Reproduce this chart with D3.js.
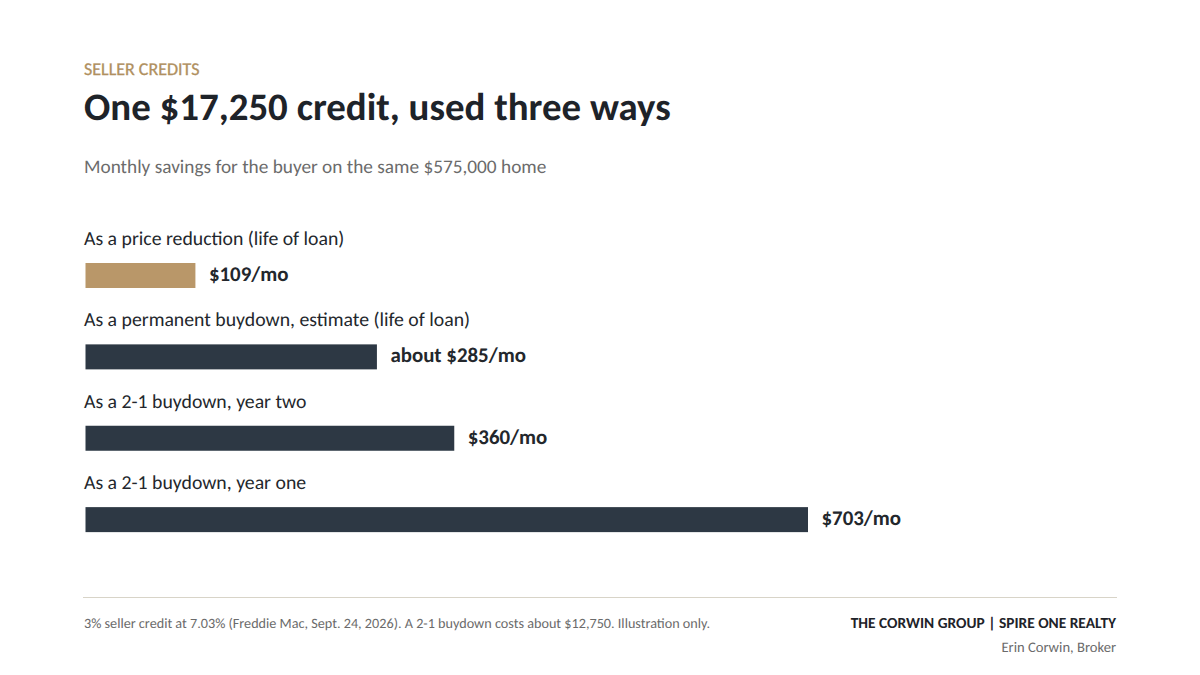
<!DOCTYPE html>
<html><head><meta charset="utf-8">
<script src="https://cdn.jsdelivr.net/npm/d3@7"></script>
<style>html,body{margin:0;padding:0;background:#fff}svg{display:block}text{font-family:Carlito,Lato,sans-serif;white-space:pre;text-rendering:geometricPrecision}</style>
</head><body><div id="c"></div>
<script>
const categories=["As a price reduction (life of loan)","As a permanent buydown, estimate (life of loan)","As a 2-1 buydown, year two","As a 2-1 buydown, year one"];
const values=[109,285,360,703];
const valueLabels=["$109/mo","about $285/mo","$360/mo","$703/mo"];
const barColors=["#b99769","#2d3844","#2d3844","#2d3844"];
const W=1200,H=675;
const svg=d3.select("#c").append("svg").attr("width",W).attr("height",H).attr("viewBox",`0 0 ${W} ${H}`);
const T=(x,y,s,size,fill,weight,anchor)=>svg.append("text").attr("x",x).attr("y",y).attr("font-size",size).attr("fill",fill).attr("font-weight",weight||400).attr("text-anchor",anchor||"start").text(s);
T(84,75,"SELLER CREDITS",18,"#b0905f",400).attr("stroke","#b0905f").attr("stroke-width",0.3);
T(84,120,"One $17,250 credit, used three ways",38.9,"#1e2329",700);
T(84,173,"Monthly savings for the buyer on the same $575,000 home",19.3,"#6b6b6b");
const x=d3.scaleLinear().domain([0,703]).range([83,808]);
const y=d3.scaleBand().domain(categories).range([222.5,548]).paddingInner(0);
const g=svg.selectAll("g.row").data(categories).join("g").attr("class","row").attr("transform",d=>`translate(0,${y(d)})`);
g.append("text").attr("x",84).attr("y",22.5).attr("font-size",19.75).attr("fill","#23272c").text(d=>d);
g.append("rect").attr("x",85.5).attr("y",40.5).attr("height",25).attr("width",(d,i)=>x(values[i])-85.5).attr("fill",(d,i)=>barColors[i]);
g.append("text").attr("x",(d,i)=>x(values[i])+13.5).attr("y",58.5).attr("font-size",20.9).attr("font-weight",700).attr("fill","#23272c").text((d,i)=>valueLabels[i]);
svg.append("line").attr("x1",83).attr("x2",1117).attr("y1",597.5).attr("y2",597.5).attr("stroke","#d8d4c8").attr("stroke-width",1);
T(84,628,"3% seller credit at 7.03% (Freddie Mac, Sept. 24, 2026). A 2-1 buydown costs about $12,750. Illustration only.",14.2,"#6b6b6b");
T(1116,628,"THE CORWIN GROUP | SPIRE ONE REALTY",15.4,"#1e2329",700,"end");
T(1116,652,"Erin Corwin, Broker",14.6,"#6b6b6b",400,"end");
</script></body></html>
